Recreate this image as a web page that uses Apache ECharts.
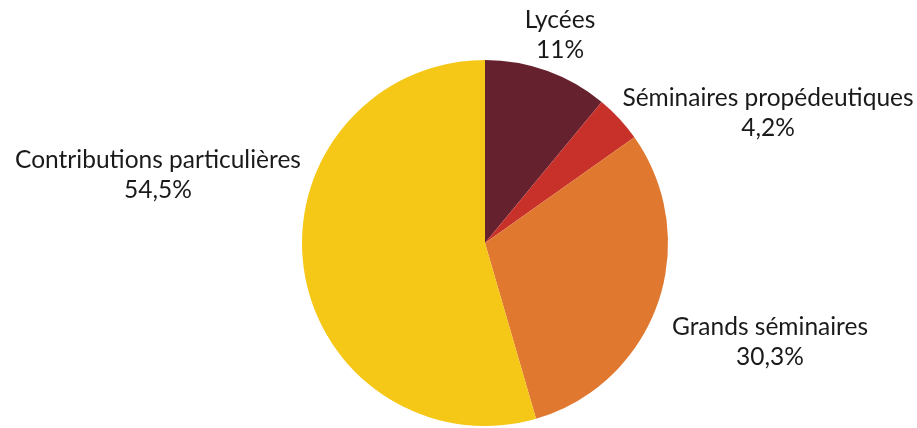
<!DOCTYPE html>
<html><head><meta charset="utf-8">
<script src="https://cdn.jsdelivr.net/npm/echarts@6/dist/echarts.min.js"></script>
<style>html,body{margin:0;padding:0;background:#fff}#c{width:917px;height:428px}</style>
</head><body><div id="c"></div>
<script>
const categories = ['Lycées', 'Séminaires propédeutiques', 'Grands séminaires', 'Contributions particulières'];
const values = [11, 4.2, 30.3, 54.5];
const colors = ['#65212e', '#c8302a', '#e07830', '#f5c817'];
// label anchor (centre of text block) per slice
const labelPos = [[560, 35], [768, 113], [770, 342], [158, 175]];

const chart = echarts.init(document.getElementById('c'));
chart.setOption({
  animation: false,
  series: [{
    type: 'pie',
    center: [485, 243],
    radius: 183,
    startAngle: 90,
    clockwise: true,
    data: categories.map((n, i) => ({ name: n, value: values[i], itemStyle: { color: colors[i] } })),
    label: {
      show: true,
      position: 'outside',
      formatter: p => p.name + '\n' + String(p.value).replace('.', ',') + '%',
      fontFamily: 'Lato',
      fontSize: 24.5,
      lineHeight: 30,
      color: '#1a1a1a',
      align: 'center',
      overflow: 'none',
      width: 400
    },
    labelLine: { show: false },
    labelLayout: p => ({ x: labelPos[p.dataIndex][0], y: labelPos[p.dataIndex][1], align: 'center', verticalAlign: 'middle' })
  }]
});
</script></body></html>
